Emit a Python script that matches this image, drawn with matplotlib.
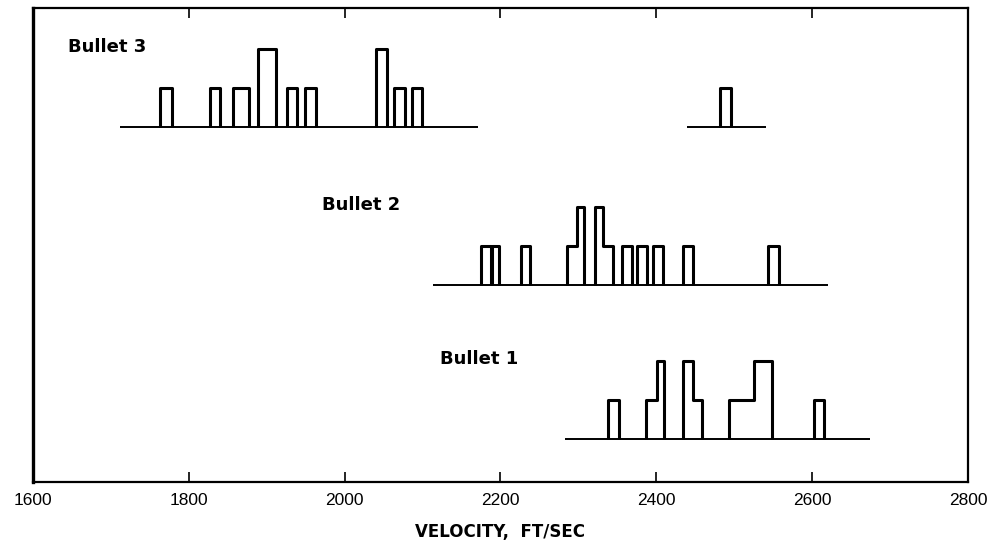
import numpy as np
import matplotlib.pyplot as plt

# bins: left edge, right edge (ft/sec) and count
b3_left = [1763, 1827, 1857, 1889, 1926, 1949, 2040, 2063, 2086, 2482]
b3_right = [1778, 1840, 1877, 1912, 1939, 1963, 2054, 2077, 2099, 2496]
b3_count = [1, 1, 1, 2, 1, 1, 2, 1, 1, 1]
b3_spans = [(1712, 2171), (2439, 2541)]

b2_left = [2175, 2189, 2226, 2285, 2298, 2321, 2332, 2356, 2375, 2396, 2434, 2543]
b2_right = [2188, 2198, 2238, 2298, 2307, 2332, 2344, 2369, 2388, 2409, 2447, 2557]
b2_count = [1, 1, 1, 1, 2, 2, 1, 1, 1, 1, 1, 1]
b2_spans = [(2113, 2620)]

b1_left = [2338, 2387, 2401, 2434, 2447, 2493, 2525, 2602]
b1_right = [2352, 2401, 2410, 2447, 2459, 2525, 2548, 2615]
b1_count = [1, 1, 2, 2, 1, 1, 2, 1]
b1_spans = [(2283, 2674)]

names = ["Bullet 3", "Bullet 2", "Bullet 1"]
baselines = [9.1, 5.05, 1.1]
label_x = [1645, 1971, 2122]

xticks = [1600, 1800, 2000, 2200, 2400, 2600, 2800]

fig = plt.figure(figsize=(9.93, 5.47), dpi=100)
ax = fig.add_axes([0.0332, 0.1188, 0.9416, 0.8666])

groups = [(b3_left, b3_right, b3_count, b3_spans),
          (b2_left, b2_right, b2_count, b2_spans),
          (b1_left, b1_right, b1_count, b1_spans)]

for (lefts, rights, counts, spans), base, name, lx in zip(groups, baselines, names, label_x):
    for s0, s1 in spans:
        ax.hlines(base, s0, s1, color="black", lw=1.4)
    # split into runs of touching bins, one step outline per run
    edges = [lefts[0]]
    vals = []
    for l, r, c in zip(lefts, rights, counts):
        if l != edges[-1]:
            ax.stairs(vals, edges, baseline=base, color="black", lw=2.2, joinstyle="round")
            edges = [l]
            vals = []
        vals.append(base + c)
        edges.append(r)
    ax.stairs(vals, edges, baseline=base, color="black", lw=2.2, joinstyle="round")
    ax.text(lx, base + 2.05, name, fontsize=13, fontweight="bold", va="center", ha="left")

ax.set_xlim(1600, 2800)
ax.set_ylim(0, 12.154)
ax.set_yticks([])
ax.set_xticks(xticks)
ax.set_xticklabels([str(t) for t in xticks], fontsize=12.5, family="Liberation Sans")
ax.tick_params(axis="x", direction="in", top=True, length=7, width=1.2, pad=8)
for sp in ax.spines.values():
    sp.set_linewidth(1.6)
ax.spines["left"].set_linewidth(2.4)
ax.set_xlabel("VELOCITY,  FT/SEC", fontsize=12, fontweight="bold", labelpad=11)

fig.savefig("out.png", dpi=100)
